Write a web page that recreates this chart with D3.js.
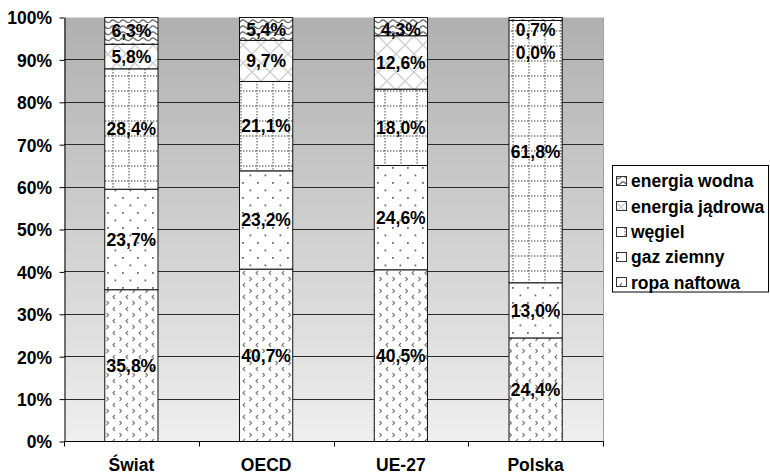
<!DOCTYPE html>
<html><head><meta charset="utf-8">
<script src="https://cdn.jsdelivr.net/npm/d3@7"></script>
<style>
body{margin:0;background:#fff}
svg{display:block}
text{font-family:"Liberation Sans",Arial,sans-serif;font-weight:bold;fill:#000}
</style>
</head><body>
<svg id="chart" width="770" height="475"></svg>
<script>
// Struktura zużycia energii pierwotnej (%)
const regions = ["Świat", "OECD", "UE-27", "Polska"];
const sources = ["ropa naftowa", "gaz ziemny", "węgiel", "energia jądrowa", "energia wodna"];
const ropaNaftowa    = [35.8, 40.7, 40.5, 24.4];
const gazZiemny      = [23.7, 23.2, 24.6, 13.0];
const wegiel         = [28.4, 21.1, 18.0, 61.8];
const energiaJadrowa = [5.8, 9.7, 12.6, 0.0];
const energiaWodna   = [6.3, 5.4, 4.3, 0.7];
const yTicks = [0, 10, 20, 30, 40, 50, 60, 70, 80, 90, 100];

const seriesValues = [ropaNaftowa, gazZiemny, wegiel, energiaJadrowa, energiaWodna];
const rows = regions.map((r, i) => {
  const o = {region: r};
  sources.forEach((s, j) => o[s] = seriesValues[j][i]);
  return o;
});

const FS = 17.5;
const plot = {left: 64, right: 603, top: 17.5, bottom: 441.5};

const svg = d3.select("#chart");
const defs = svg.append("defs");

// plot background gradient
const grad = defs.append("linearGradient").attr("id", "bg")
  .attr("x1", 0).attr("y1", 0).attr("x2", 0).attr("y2", 1);
grad.append("stop").attr("offset", "0%").attr("stop-color", "#b0b0b0");
grad.append("stop").attr("offset", "100%").attr("stop-color", "#efefef");

// fill patterns
function pat(id, w, h, draw) {
  const p = defs.append("pattern").attr("id", id)
    .attr("patternUnits", "userSpaceOnUse").attr("width", w).attr("height", h);
  p.append("rect").attr("width", w).attr("height", h).attr("fill", "#fff");
  draw(p);
}
// ropa naftowa: small chevrons
pat("p0", 13, 12, p => {
  p.append("path").attr("d", "M2.5,1 L4.5,3 L2.5,5").attr("fill", "none")
    .attr("stroke", "#7a7a7a").attr("stroke-width", 1.1);
  p.append("path").attr("d", "M11,7 L9,9 L11,11").attr("fill", "none")
    .attr("stroke", "#7a7a7a").attr("stroke-width", 1.1);
});
// gaz ziemny: staggered dots
pat("p1", 15, 15, p => {
  p.append("rect").attr("x", 2).attr("y", 2).attr("width", 1.8).attr("height", 1.8).attr("fill", "#6e6e6e");
  p.append("rect").attr("x", 9.5).attr("y", 9.5).attr("width", 1.8).attr("height", 1.8).attr("fill", "#6e6e6e");
});
// węgiel: dotted grid
pat("p2", 16, 15, p => {
  p.append("path").attr("d", "M1,0 V15 M0,1 H16").attr("stroke", "#7a7a7a")
    .attr("stroke-width", 1.4).attr("stroke-dasharray", "1.4 1.6");
});
// energia jądrowa: light diagonal lattice
pat("p3", 18, 18, p => {
  p.append("path").attr("d", "M0,0 L18,18 M18,0 L0,18").attr("stroke", "#d0d0d0")
    .attr("stroke-width", 1.4).attr("stroke-linecap", "square");
});
// energia wodna: waves
pat("p4", 10, 6, p => {
  p.append("path").attr("d", "M0,4 Q2.5,0.5 5,3 T10,4").attr("fill", "none")
    .attr("stroke", "#6a6a6a").attr("stroke-width", 1.3);
});

const x = d3.scaleBand().domain(regions).range([plot.left, plot.right]).padding(0);
const y = d3.scaleLinear().domain([0, 1]).range([plot.bottom, plot.top]);
const barW = x.bandwidth() * 0.395;

// background + gridlines
svg.append("rect").attr("x", plot.left).attr("y", plot.top)
  .attr("width", plot.right - plot.left).attr("height", plot.bottom - plot.top)
  .attr("fill", "url(#bg)");
svg.append("line").attr("x1", plot.right + 0.5).attr("x2", plot.right + 0.5)
  .attr("y1", plot.top).attr("y2", plot.bottom).attr("stroke", "#a0a0a0");
svg.append("g").selectAll("line").data(yTicks.filter(t => t > 0 && t < 100)).join("line")
  .attr("x1", plot.left).attr("x2", plot.right)
  .attr("y1", d => Math.round(y(d / 100) - 0.5) + 0.5)
  .attr("y2", d => Math.round(y(d / 100) - 0.5) + 0.5)
  .attr("stroke", "#2a2a2a").attr("stroke-width", 1);

// stacked bars (100%)
const stack = d3.stack().keys(sources).offset(d3.stackOffsetExpand)(rows);
const gBars = svg.append("g");
stack.forEach((layer, j) => {
  gBars.append("g").selectAll("rect").data(layer).join("rect")
    .attr("x", d => x(d.data.region) + (x.bandwidth() - barW) / 2)
    .attr("y", d => y(d[1]))
    .attr("width", barW)
    .attr("height", d => y(d[0]) - y(d[1]))
    .attr("fill", `url(#p${j})`)
    .attr("stroke", "#111").attr("stroke-width", 1);
});

// data labels, pushed apart where segments are too thin
const fmt = v => v.toFixed(1).replace(".", ",") + "%";
const gLab = svg.append("g");
regions.forEach((r, i) => {
  const labs = stack.map((layer, j) => ({
    v: seriesValues[j][i],
    cy: y((layer[i][0] + layer[i][1]) / 2)
  })).reverse();
  let prev = -Infinity;
  labs.forEach(l => {
    l.cy = Math.max(l.cy, plot.top + 12.5, prev + 22.5);
    prev = l.cy;
  });
  labs.forEach(l => {
    gLab.append("text")
      .attr("x", x(r) + x.bandwidth() / 2).attr("y", l.cy)
      .attr("text-anchor", "middle").attr("dy", "0.36em")
      .attr("font-size", FS).text(fmt(l.v));
  });
});

// y axis
const yAxis = svg.append("g").attr("transform", `translate(${plot.left + 0.5},0)`)
  .call(d3.axisLeft(y).tickValues(yTicks.map(t => t / 100)).tickSize(5).tickSizeOuter(0)
    .tickFormat(d => Math.round(d * 100) + "%"));
yAxis.select(".domain").attr("stroke", "#000");
yAxis.selectAll(".tick line").attr("stroke", "#000");
yAxis.selectAll(".tick text")
  .attr("x", -12.5).attr("dy", "0.36em")
  .attr("font-size", FS).attr("font-family", null).attr("fill", "#000");

// x axis
const xAxis = svg.append("g");
xAxis.append("line").attr("x1", plot.left).attr("x2", plot.right + 0.5)
  .attr("y1", plot.bottom).attr("y2", plot.bottom).attr("stroke", "#000");
const bounds = regions.map(r => x(r)).concat([plot.right]);
xAxis.selectAll("line.tk").data(bounds).join("line").attr("class", "tk")
  .attr("x1", d => Math.round(d) + 0.5).attr("x2", d => Math.round(d) + 0.5)
  .attr("y1", plot.bottom).attr("y2", plot.bottom + 5).attr("stroke", "#000");
xAxis.selectAll("text").data(regions).join("text")
  .attr("x", d => x(d) + x.bandwidth() / 2).attr("y", 471)
  .attr("text-anchor", "middle").attr("font-size", FS).text(d => d);

// legend
const leg = svg.append("g");
leg.append("rect").attr("x", 612.5).attr("y", 165.5).attr("width", 156).attr("height", 126.5)
  .attr("fill", "#fff").attr("stroke", "#000");
const legItems = sources.map((s, j) => ({s, j})).reverse();
legItems.forEach((d, k) => {
  const cy = 181 + k * 25.3;
  leg.append("rect").attr("x", 616.5).attr("y", Math.round(cy - 5) + 0.5)
    .attr("width", 10).attr("height", 9)
    .attr("fill", `url(#p${d.j})`).attr("stroke", "#333");
  leg.append("text")
    .attr("x", 631).attr("y", cy)
    .attr("dy", "0.36em").attr("font-size", FS).text(d.s);
});
</script>
</body></html>
